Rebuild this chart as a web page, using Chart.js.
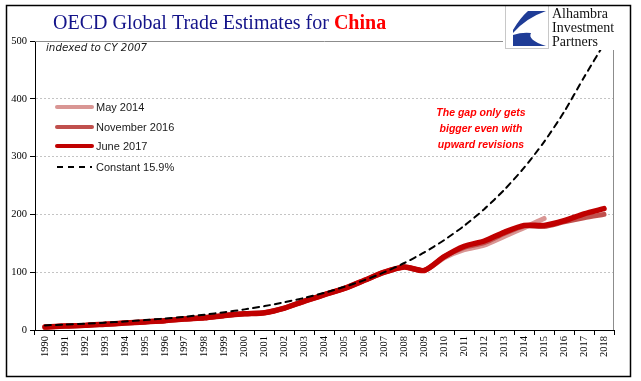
<!DOCTYPE html>
<html>
<head>
<meta charset="utf-8">
<script src="https://cdn.jsdelivr.net/npm/chart.js@4/dist/chart.umd.min.js"></script>
<style>
  html, body { margin: 0; padding: 0; background: #fff; }
  #wrap { width: 641px; height: 381px; }
</style>
</head>
<body>
<div id="wrap"><canvas id="c" width="641" height="381"></canvas></div>
<script>
// ---- Data ----
const years = ['1990','1991','1992','1993','1994','1995','1996','1997','1998','1999','2000','2001','2002','2003','2004','2005','2006','2007','2008','2009','2010','2011','2012','2013','2014','2015','2016','2017','2018'];
const may2014 = [5, 7, 8, 10, 12, 14, 16, 19, 21, 25, 28, 30, 38, 50, 61, 72, 86, 100, 109, 103, 125, 139, 147, 162, 177, 193, null, null, null];
const nov2016 = [5, 7, 8, 10, 12, 14, 16, 19, 21, 25, 28, 30, 38, 50, 61, 72, 86, 100, 109, 103, 127, 143, 151, 167, 180, 179, 187, 194, 200];
const jun2017 = [5, 7, 8, 10, 12, 14, 16, 19, 21, 25, 28, 30, 38, 50, 61, 72, 86, 100, 109, 103, 127, 145, 154, 169, 181, 181, 189, 201, 210];
const constant159 = [8, 9.5, 11, 12.7, 14.7, 17.1, 19.8, 22.9, 26.6, 30.8, 35.7, 41.4, 48, 55.6, 64.4, 74.7, 86.3, 100, 115.9, 134.3, 155.7, 180.4, 209.1, 242.4, 280.9, 325.6, 377.3, 437.3, 495];
const seriesNames = ['May 2014', 'November 2016', 'June 2017', 'Constant 15.9%'];
const yTicks = [0, 100, 200, 300, 400, 500];
const titleMain = 'OECD Global Trade Estimates for ';
const titleRed = 'China';
const subtitle = 'indexed to CY 2007';
const note = ['The gap only gets', 'bigger even with', 'upward revisions'];
const logoLines = ['Alhambra', 'Investment', 'Partners'];

const decor = {
  id: 'decor',
  beforeDatasetsDraw(chart) {
    const {ctx, chartArea: a} = chart;
    ctx.save();
    ctx.strokeStyle = '#8c8c8c';
    ctx.lineWidth = 1;
    ctx.beginPath();
    ctx.moveTo(a.left, a.top + 0.5);
    ctx.lineTo(a.right, a.top + 0.5);
    ctx.moveTo(a.right - 0.5, a.top);
    ctx.lineTo(a.right - 0.5, a.bottom);
    ctx.stroke();
    ctx.restore();
  },
  afterDraw(chart) {
    const {ctx} = chart;
    ctx.save();
    // Title
    ctx.textBaseline = 'alphabetic';
    ctx.textAlign = 'left';
    ctx.font = '20px "Liberation Serif", "Times New Roman", serif';
    ctx.fillStyle = '#14148a';
    ctx.fillText(titleMain, 53, 29);
    const w = ctx.measureText(titleMain).width;
    ctx.font = 'bold 20px "Liberation Serif", "Times New Roman", serif';
    ctx.fillStyle = '#ff0000';
    ctx.fillText(titleRed, 53 + w, 29);
    // Subtitle
    ctx.font = 'italic 10.3px "DejaVu Sans", sans-serif';
    ctx.fillStyle = '#1a1a1a';
    ctx.fillText(subtitle, 46, 51);
    // Note
    ctx.font = 'bold italic 10.5px "Liberation Sans", Arial, sans-serif';
    ctx.fillStyle = '#ff0000';
    ctx.textAlign = 'center';
    note.forEach((t, i) => ctx.fillText(t, 481, 116 + i * 16));
    // Legend (from datasets)
    ctx.textAlign = 'left';
    ctx.textBaseline = 'middle';
    ctx.font = '11px "Liberation Sans", Arial, sans-serif';
    const ly = [107, 127, 146, 167];
    chart.data.datasets.forEach((ds, i) => {
      const y = ly[i];
      ctx.beginPath();
      ctx.strokeStyle = ds.borderColor;
      if (ds.borderDash) {
        ctx.lineWidth = 2;
        ctx.setLineDash([6, 5]);
        ctx.lineCap = 'butt';
      } else {
        ctx.lineWidth = 4;
        ctx.setLineDash([]);
        ctx.lineCap = 'round';
      }
      ctx.moveTo(57, y);
      ctx.lineTo(92, y);
      ctx.stroke();
      ctx.setLineDash([]);
      ctx.fillStyle = '#1a1a1a';
      ctx.fillText(ds.label, 96, y + 0.5);
    });
    // Logo
    ctx.fillStyle = '#ffffff';
    ctx.fillRect(503, 6, 118, 44);
    ctx.strokeStyle = '#c8c8c8';
    ctx.lineWidth = 1;
    ctx.strokeRect(505.5, 5.5, 43, 43);
    ctx.fillStyle = '#1f3c96';
    ctx.beginPath();
    ctx.moveTo(528, 11); ctx.lineTo(546, 11);
    ctx.quadraticCurveTo(526, 18, 513, 33);
    ctx.lineTo(513, 30);
    ctx.quadraticCurveTo(520, 18, 528, 11);
    ctx.closePath();
    ctx.fill();
    ctx.beginPath();
    ctx.moveTo(513, 35);
    ctx.quadraticCurveTo(522, 32, 531, 33);
    ctx.quadraticCurveTo(527, 40, 546, 46);
    ctx.lineTo(513, 46);
    ctx.closePath();
    ctx.fill();
    ctx.fillStyle = '#111111';
    ctx.font = '14px "Liberation Serif", "Times New Roman", serif';
    ctx.textBaseline = 'alphabetic';
    logoLines.forEach((t, i) => ctx.fillText(t, 552, 18 + i * 14));
    // Frame
    ctx.strokeStyle = '#000';
    ctx.lineWidth = 1.5;
    ctx.strokeRect(6.5, 5.5, 624, 371);
    ctx.restore();
  }
};

new Chart(document.getElementById('c'), {
  type: 'line',
  data: {
    labels: years,
    datasets: [
      { label: seriesNames[0], data: may2014, borderColor: '#d99694', borderWidth: 5, order: 3 },
      { label: seriesNames[1], data: nov2016, borderColor: '#c0504d', borderWidth: 5, order: 2 },
      { label: seriesNames[2], data: jun2017, borderColor: '#c00000', borderWidth: 5.5, order: 1 },
      { label: seriesNames[3], data: constant159, borderColor: '#000000', borderWidth: 2, borderDash: [6, 5], order: 0 }
    ]
  },
  options: {
    responsive: false,
    animation: false,
    devicePixelRatio: 1,
    layout: { padding: { left: 6, right: 27, top: 41, bottom: 5 } },
    elements: {
      point: { radius: 0, hoverRadius: 0 },
      line: { tension: 0.25, borderCapStyle: 'round', borderJoinStyle: 'round', fill: false }
    },
    plugins: { legend: { display: false }, tooltip: { enabled: false }, title: { display: false } },
    scales: {
      x: {
        offset: true,
        afterFit(s) { s.height = 46; },
        grid: { offset: true, drawOnChartArea: false, drawTicks: true, tickLength: 5, tickColor: '#000', tickWidth: 1 },
        border: { display: true, color: '#000', width: 1 },
        ticks: {
          autoSkip: false, minRotation: 90, maxRotation: 90, padding: 1,
          color: '#000', font: { family: '"Liberation Serif", "Times New Roman", serif', size: 10.5 }
        }
      },
      y: {
        min: 0, max: 500,
        afterFit(s) { s.width = 29; },
        afterBuildTicks(s) { s.ticks = yTicks.map(v => ({ value: v })); },
        grid: {
          color: c => (c.tick && (c.tick.value === 0 || c.tick.value === 500)) ? 'rgba(0,0,0,0)' : '#c4c4c4',
          lineWidth: 1, tickLength: 5, tickColor: '#000', tickBorderDash: [], drawTicks: true
        },
        border: { display: true, color: '#000', width: 1, dash: [2, 2] },
        ticks: {
          padding: 3, color: '#000',
          font: { family: '"Liberation Serif", "Times New Roman", serif', size: 10.5 }
        }
      }
    }
  },
  plugins: [decor]
});
</script>
</body>
</html>
